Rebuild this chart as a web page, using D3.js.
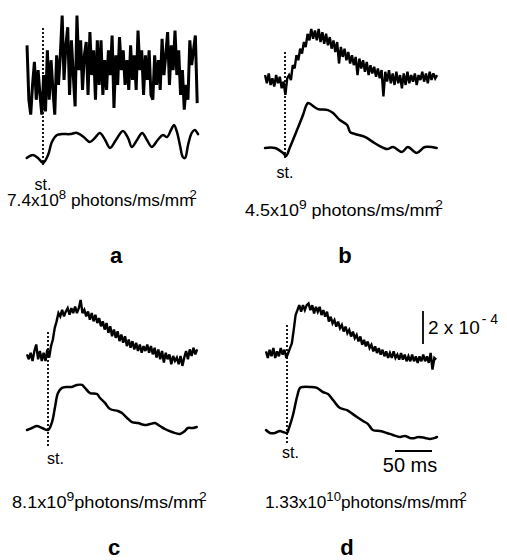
<!DOCTYPE html>
<html><head><meta charset="utf-8">
<script src="https://cdn.jsdelivr.net/npm/d3@7"></script>
<style>
html,body{margin:0;padding:0;background:#fff;}
svg{display:block;}
text{font-family:"Liberation Sans",Arial,Helvetica,sans-serif;fill:#000;}
</style></head><body>
<svg id="fig" width="507" height="560"></svg>
<script>
// Panel ids and stimulus intensities (photons/ms/mm^2)
const panelIds = ["a", "b", "c", "d"];
const intensityMantissa = ["7.4", "4.5", "8.1", "1.33"];
const intensityExponent = ["8", "9", "9", "10"];

// Single-sweep responses (units of 1e-4), one sample every 2.5 ms
const sampleStepMs = 2.5;
const rawStartMs = [-21.6, -27, -28.4, -28.4];
const rawA = [2.1,-1.2,-2.1,-0.3,1.1,-1.2,0.6,-0.9,-2.1,0.3,-1.9,1.8,-1.2,1.2,-0.6,-2.1,1.5,-0.3,1.5,3.9,
  0,2.1,3.2,-0.9,2.4,0.3,-1.6,3.9,0.6,2.4,-0.6,1.5,2.3,-0.9,2.9,0.3,1.8,-1.2,2.4,-0.3,
  2.4,-0.9,1.2,-0.6,1.8,0.3,2.7,-1.7,1.5,-0.3,2.6,0.6,1.8,-0.3,1.2,-0.6,2.1,0,1.5,-0.6,
  3.0,0.6,1.8,-0.9,1.5,0,1.8,-0.9,-1.2,1.5,-0.3,1.2,-0.6,2.5,0.3,1.5,2.9,-0.3,2.1,0.6,
  3.0,0.3,1.8,-0.9,0.6,-1.8,-0.3,-1.2,2.4,0.9,1.8,2.7,-1.4];
const rawB = [0.3,-0.2,0.4,-0.3,0.1,-0.4,0.3,-0.2,0.2,-0.5,-0.1,-0.9,0.1,0.3,0.0,0.9,0.7,1.5,1.2,1.9,
  1.6,2.3,2.0,2.8,2.4,3.1,2.5,3.0,2.4,3.1,2.3,2.9,2.2,2.8,2.1,2.6,1.9,2.4,1.7,2.3,
  1.0,2.0,1.4,1.9,1.2,1.7,1.0,1.5,0.9,1.4,0.3,1.3,0.7,1.2,0.5,1.1,0.3,0.9,0.4,0.8,
  0.2,0.7,0.1,0.6,-1.0,0.5,-0.1,0.6,-0.2,0.4,-0.3,0.5,-0.2,0.3,-0.5,0.4,-0.3,0.5,-0.2,0.3,
  -0.1,0.4,-0.3,0.3,0.0,0.5,-0.1,0.4,-0.2,0.5,0.0,0.4,0.1,0.3];
const rawC = [0.1,-0.2,0.2,-0.3,0.3,0.7,-0.2,0.3,-0.3,0.2,-0.3,0.4,-0.1,0.6,1.0,1.7,2.1,2.6,2.4,2.8,
  2.4,2.7,2.9,2.5,2.9,2.6,3.0,2.6,2.9,3.4,2.6,2.8,2.4,2.7,2.2,2.6,2.1,2.5,2.0,2.3,
  1.8,2.1,1.6,2.0,1.4,1.8,1.2,1.6,1.1,1.5,0.9,1.3,0.8,1.2,0.6,1.0,0.5,0.9,0.4,0.8,
  0.3,0.7,0.2,0.6,0.3,0.7,0.2,0.6,0.1,0.5,-0.1,0.4,-0.2,0.3,-0.4,0.2,-0.2,0.1,-0.5,0.0,
  -0.3,-0.1,-0.5,0.0,-0.6,-0.1,0.3,-0.2,0.4,0.0,0.5,0.1,0.4];
const rawD = [0.1,-0.3,0.2,-0.2,0.3,-0.3,0.1,-0.2,0.3,-0.1,0.2,-0.3,0.0,0.3,0.6,1.4,2.3,2.6,2.9,2.5,
  2.9,2.6,2.9,3.0,2.6,2.9,2.4,2.8,2.5,2.8,2.3,2.6,2.2,2.5,1.9,2.2,1.8,2.0,1.6,1.9,
  1.5,1.7,1.3,1.6,1.2,1.4,1.0,1.3,0.9,1.1,0.7,1.0,0.5,0.8,0.4,0.7,0.3,0.5,0.1,0.4,
  0.0,0.3,-0.1,0.2,-0.2,0.1,-0.3,0.0,-0.3,0.1,-0.3,-0.1,-0.4,0.0,-0.4,-0.1,-0.5,-0.2,-0.5,-0.1,
  -0.5,-0.2,-0.6,-0.2,-0.5,-0.1,-0.5,-0.2,-0.6,0.0,-1.0,-0.3,-0.4];

// Averaged (filtered) responses: [time ms, signal 1e-4]
const smoothA = [[-22,0],[-13.5,0.18],[-6.8,0],[0,-0.3],[6.8,0.18],[12,0.97],[19,1.39],[25.7,1.45],
  [36.5,1.45],[46,1.52],[55,1.27],[63.5,0.97],[70,1.21],[77,1.52],[84,1.09],[90.5,0.61],[98.6,1.09],
  [108,1.64],[115,1.21],[120,0.67],[127,1.09],[134,1.52],[140.5,1.09],[147,0.67],[155,1.09],[162,1.39],
  [167.6,1.27],[173,1.7],[177,2.0],[181,1.58],[185,0.79],[189,0.06],[192,0],[196,0.79],[201,1.52],
  [205,1.7],[209.5,1.45]];
const smoothB = [[-27,0.12],[-13.5,0.12],[-2.7,-0.18],[1.4,-0.36],[6.8,0.18],[16.2,1.21],[24.3,2.12],
  [28,2.62],[31,2.85],[34,2.8],[37.8,2.67],[44.6,2.48],[58,2.42],[65,2.24],[74,1.82],[84,1.52],[88,1.09],[94.6,0.97],
  [108,0.79],[119,0.48],[125.7,0.3],[138,0.06],[146,0.18],[158,-0.12],[166,0.18],[178,-0.18],
  [189,0.18],[205,0.12]];
const smoothC = [[-28.4,0],[-21.6,0.12],[-14.9,0.24],[-8.1,0.12],[0,0],[5.4,0.48],[9.5,1.39],[13.5,2.24],
  [18.9,2.55],[25.7,2.61],[32.4,2.61],[39.2,2.73],[46,2.73],[50,2.55],[56.8,2.24],[66.2,2.18],[70.3,1.94],
  [77,1.64],[83.8,1.27],[94.6,1.15],[100,1.03],[106.8,0.73],[113.5,0.48],[121.6,0.42],[131,0.3],
  [137.8,0.36],[144.6,0.42],[151.4,0.24],[158,0.06],[167.6,-0.12],[178.4,-0.24],[185,-0.06],[189,0.12],
  [196,0.12],[201,0.18]];
const smoothD = [[-28.4,0.06],[-23,-0.12],[-16.2,-0.12],[-9.5,0],[-5.4,-0.06],[0,-0.12],[2.7,0.18],
  [8.1,0.97],[13.5,2.06],[17.6,2.61],[21.6,2.67],[31,2.67],[40.5,2.61],[48.6,2.36],[55.4,2.24],[62.2,1.88],
  [71.6,1.39],[81,1.27],[85,1.15],[94.6,0.85],[102.7,0.61],[109.5,0.42],[116,0.06],[125.7,0],[135,-0.12],
  [143,-0.24],[152.7,-0.36],[159.5,-0.3],[166,-0.42],[173,-0.42],[178,-0.36],[186.5,-0.42],[193,-0.48],
  [200,-0.42],[202.7,-0.36]];

// Calibration bars
const calSignal = 2;     // x 1e-4
const calTimeMs = 50;

const rawTraces = [rawA, rawB, rawC, rawD];
const smoothTraces = [smoothA, smoothB, smoothC, smoothD];

// Panel geometry
const calPx = {time: 37, signal: 33};
const layout = [
  {stimX: 43,  rawBase: 80,  smoothBase: 158, stimTop: 28,  stimBottom: 165, st: [43, 190, "middle"],  label: [7, 197, 206],   letter: [116, 263], gap: true,  rawWidth: 3.0},
  {stimX: 285, rawBase: 80,  smoothBase: 150, stimTop: 52,  stimBottom: 158, st: [285, 178, "middle"], label: [245, 443, 216], letter: [345, 263], gap: true,  rawWidth: 2.4},
  {stimX: 48,  rawBase: 356, smoothBase: 430, stimTop: 332, stimBottom: 448, st: [47, 464, "start"],   label: [12, 207, 508],  letter: [114, 555], gap: false, rawWidth: 2.4},
  {stimX: 287, rawBase: 353, smoothBase: 431, stimTop: 325, stimBottom: 443, st: [282, 458, "start"],  label: [265, 467, 508], letter: [347, 555], gap: false, rawWidth: 2.4}
];

const svg = d3.select("#fig");

panelIds.forEach((id, i) => {
  const L = layout[i];
  const g = svg.append("g").attr("class", "panel-" + id);
  const x = d3.scaleLinear().domain([0, calTimeMs]).range([L.stimX, L.stimX + calPx.time]);
  const yRaw = d3.scaleLinear().domain([0, calSignal]).range([L.rawBase, L.rawBase - calPx.signal]);
  const ySmooth = d3.scaleLinear().domain([0, calSignal]).range([L.smoothBase, L.smoothBase - calPx.signal]);

  // stimulus marker
  g.append("line")
    .attr("x1", x(0)).attr("x2", x(0))
    .attr("y1", L.stimTop).attr("y2", L.stimBottom)
    .attr("stroke", "#000").attr("stroke-width", 1.8)
    .attr("stroke-dasharray", "2,2");

  // single sweep
  const raw = rawTraces[i].map((v, k) => ({t: rawStartMs[i] + k * sampleStepMs, v}));
  g.append("path")
    .datum(raw)
    .attr("fill", "none").attr("stroke", "#000")
    .attr("stroke-width", L.rawWidth).attr("stroke-linejoin", "miter").attr("stroke-miterlimit", 3)
    .attr("d", d3.line().x(d => x(d.t)).y(d => yRaw(d.v)));

  // averaged trace
  g.append("path")
    .datum(smoothTraces[i])
    .attr("fill", "none").attr("stroke", "#000")
    .attr("stroke-width", 2.5).attr("stroke-linejoin", "round").attr("stroke-linecap", "round")
    .attr("d", d3.line().curve(d3.curveCatmullRom.alpha(0.5)).x(d => x(d[0])).y(d => ySmooth(d[1])));

  // "st." label
  g.append("text")
    .attr("x", L.st[0]).attr("y", L.st[1])
    .attr("text-anchor", L.st[2])
    .style("font-size", "16px")
    .text("st.");

  // intensity label
  const t = g.append("text").style("font-size", "17px");
  t.append("tspan").text(intensityMantissa[i] + "x10");
  t.append("tspan").attr("dy", -7).style("font-size", "13px").text(intensityExponent[i]);
  t.append("tspan").attr("dy", 7).text((L.gap ? " " : "") + "photons/ms/mm");
  t.append("tspan").attr("dx", -4).attr("dy", -7).style("font-size", "13px").text("2");
  const bb = t.node().getBBox();
  const sx = (L.label[1] - L.label[0]) / bb.width;
  t.attr("transform", `translate(${L.label[0] - bb.x * sx},${L.label[2]}) scale(${sx},1)`);

  // panel letter
  g.append("text")
    .attr("x", L.letter[0]).attr("y", L.letter[1])
    .attr("text-anchor", "middle")
    .style("font-size", "22px").style("font-weight", "bold")
    .text(id);
});

// Calibration: signal bar
const calY = d3.scaleLinear().domain([0, calSignal]).range([344, 344 - calPx.signal]);
svg.append("line")
  .attr("x1", 423).attr("x2", 423)
  .attr("y1", calY(0)).attr("y2", calY(calSignal))
  .attr("stroke", "#000").attr("stroke-width", 1.8);
const sigLabel = svg.append("text").attr("x", 428).attr("y", 334).style("font-size", "19px");
sigLabel.append("tspan").text(calSignal + " x 10");
sigLabel.append("tspan").attr("dy", -10).attr("dx", 2).style("font-size", "14px").text("- 4");

// Calibration: time bar
const calX = d3.scaleLinear().domain([0, calTimeMs]).range([395, 395 + calPx.time]);
svg.append("line")
  .attr("x1", calX(0)).attr("x2", calX(calTimeMs))
  .attr("y1", 451).attr("y2", 451)
  .attr("stroke", "#000").attr("stroke-width", 1.8);
svg.append("text")
  .attr("x", 410).attr("y", 472)
  .attr("text-anchor", "middle")
  .style("font-size", "20px")
  .text(calTimeMs + " ms");
</script>
</body></html>
